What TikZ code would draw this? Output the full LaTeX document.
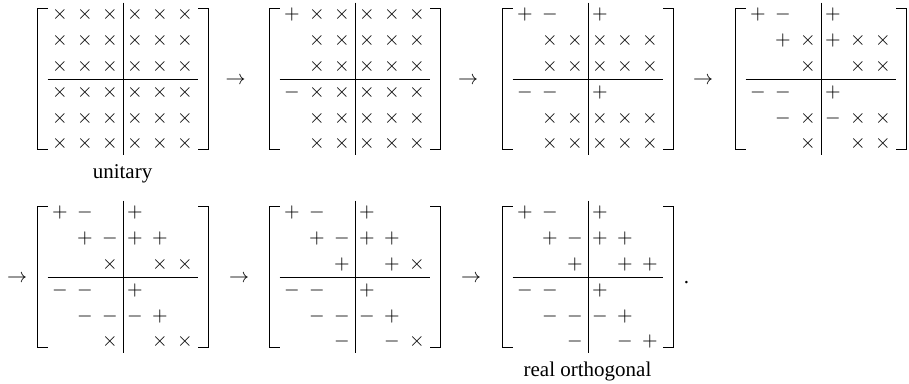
\documentclass[tikz,border=0pt]{standalone}
\usepackage{fontspec}
\setmainfont{Liberation Serif}
\newcommand\mxp{$+$}
\newcommand\mxm{$-$}
\newcommand\mxx{$\times$}
\tikzset{
  ent/.style={anchor=base, inner sep=0pt, font=\fontsize{10}{12}\selectfont},
  brk/.style={line width=0.6pt},
  rulel/.style={line width=0.45pt},
  matbox/.style={minimum width=85pt, minimum height=70pt, inner sep=0pt, draw=none},
  arr/.style={anchor=base, inner sep=0pt, font=\fontsize{10}{12}\selectfont},
  lab/.style={anchor=base, inner sep=0pt, font=\fontsize{10.5}{12}\selectfont},
}
\newcommand\drawmat[4]{%
  \node[matbox] (#1) at ({#2+85},{#3+70}) {};
  \draw[brk] ([xshift=5pt]#1.north west) -- (#1.north west) -- (#1.south west) -- ([xshift=5pt]#1.south west);
  \draw[brk] ([xshift=-5pt]#1.north east) -- (#1.north east) -- (#1.south east) -- ([xshift=-5pt]#1.south east);
  \draw[rulel] ([yshift=3pt]#1.north) -- ([yshift=-3pt]#1.south);
  \draw[rulel] ([xshift=5pt]#1.west) -- ([xshift=-5pt]#1.east);
  \foreach \rw [count=\r] in {#4} {
    \foreach \e [count=\c] in \rw {
      \if\e o\else
        \node[ent] (#1-\r-\c) at ({#2+22+25*(\c-1)},{#3+11+25.8*(\r-1)}) {\csname mx\e\endcsname};
      \fi
    }
  }
}
\begin{document}
\begin{tikzpicture}[x=0.5pt,y=-0.5pt]
\useasboundingbox (0,0) rectangle (909,384);
\drawmat{M1}{38}{9}{{x,x,x,x,x,x},{x,x,x,x,x,x},{x,x,x,x,x,x},{x,x,x,x,x,x},{x,x,x,x,x,x},{x,x,x,x,x,x}}
\drawmat{M2}{270}{9}{{p,x,x,x,x,x},{o,x,x,x,x,x},{o,x,x,x,x,x},{m,x,x,x,x,x},{o,x,x,x,x,x},{o,x,x,x,x,x}}
\drawmat{M3}{503}{9}{{p,m,o,p,o,o},{o,x,x,x,x,x},{o,x,x,x,x,x},{m,m,o,p,o,o},{o,x,x,x,x,x},{o,x,x,x,x,x}}
\drawmat{M4}{736}{9}{{p,m,o,p,o,o},{o,p,x,p,x,x},{o,o,x,o,x,x},{m,m,o,p,o,o},{o,m,x,m,x,x},{o,o,x,o,x,x}}
\drawmat{M5}{38}{207}{{p,m,o,p,o,o},{o,p,m,p,p,o},{o,o,x,o,x,x},{m,m,o,p,o,o},{o,m,m,m,p,o},{o,o,x,o,x,x}}
\drawmat{M6}{270}{207}{{p,m,o,p,o,o},{o,p,m,p,p,o},{o,o,p,o,p,x},{m,m,o,p,o,o},{o,m,m,m,p,o},{o,o,m,o,m,x}}
\drawmat{M7}{503}{207}{{p,m,o,p,o,o},{o,p,m,p,p,o},{o,o,p,o,p,p},{m,m,o,p,o,o},{o,m,m,m,p,o},{o,o,m,o,m,p}}
\node[arr] (a12) at (235.5,85) {$\rightarrow$};
\node[arr] (a23) at (468,85) {$\rightarrow$};
\node[arr] (a34) at (703,85) {$\rightarrow$};
\node[arr] (a45) at (17,283) {$\rightarrow$};
\node[arr] (a56) at (239,283) {$\rightarrow$};
\node[arr] (a67) at (471,283) {$\rightarrow$};
\node[lab] (dot) at (686.5,284) {.};
\node[lab] (l1) at (122.5,179) {unitary};
\node[lab] (l2) at (587.5,376) {real orthogonal};
\end{tikzpicture}
\end{document}
